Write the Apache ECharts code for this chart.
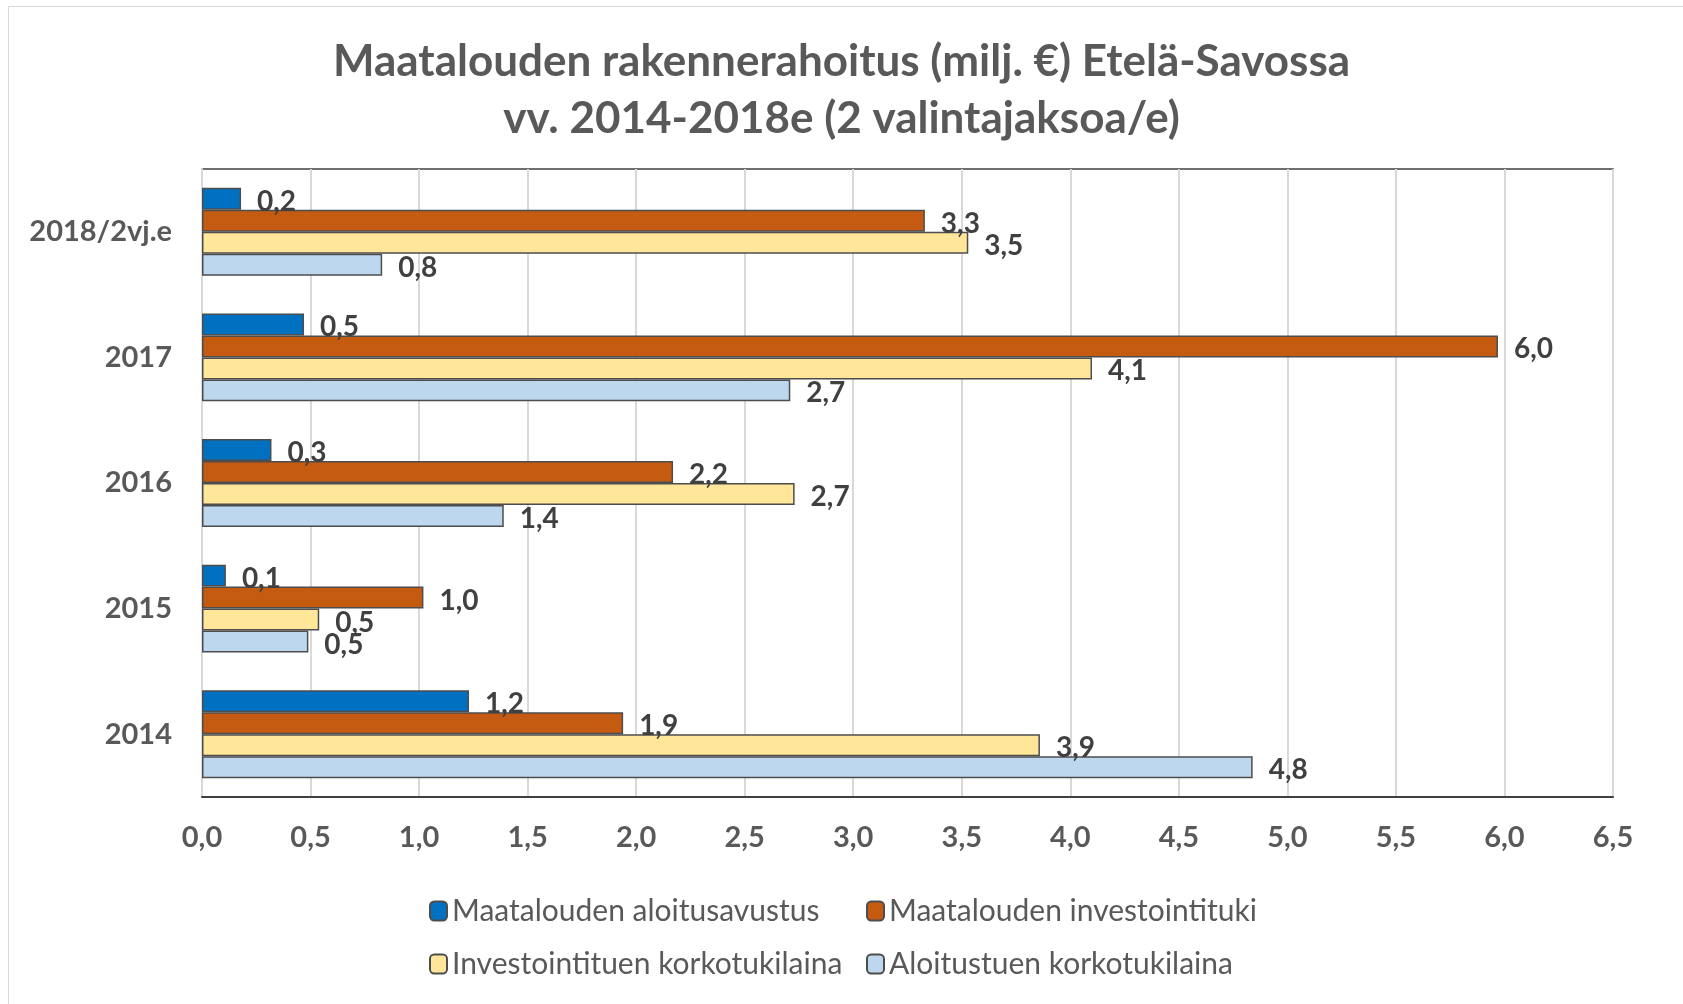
<!DOCTYPE html>
<html>
<head>
<meta charset="utf-8">
<script src="https://cdn.jsdelivr.net/npm/echarts@6/dist/echarts.min.js"></script>
<style>
  html, body { margin: 0; padding: 0; background: #fff; }
  #frame { position: absolute; left: 8px; top: 6px; width: 1690px; height: 1010px; border: 1px solid #d9d9d9; }
  #chart { position: absolute; left: 0; top: 0; width: 1683px; height: 1004px; }
</style>
</head>
<body>
<div id="frame"></div>
<div id="chart"></div>
<script>
  // vuodet ylhäältä alas
  var categories = ['2018/2vj.e', '2017', '2016', '2015', '2014']
  var seriesNames = ['Maatalouden aloitusavustus', 'Maatalouden investointituki', 'Investointituen korkotukilaina', 'Aloitustuen korkotukilaina']
  var aloitusavustus = [0.18, 0.47, 0.32, 0.11, 1.23]
  var investointituki = [3.33, 5.97, 2.17, 1.02, 1.94]
  var investKorkotuki = [3.53, 4.10, 2.73, 0.54, 3.86]
  var aloitusKorkotuki = [0.83, 2.71, 1.39, 0.49, 4.84]
  var colors = ['#0070C0', '#C55A11', '#FFE699', '#BDD7EE']

  var font = 'Lato, "Open Sans", sans-serif'
  var dark = '#404040'

  function fmt (v) {
    return v.toFixed(1).replace('.', ',')
  }

  var allData = [aloitusavustus, investointituki, investKorkotuki, aloitusKorkotuki]
  var series = allData.map(function (d, i) {
    return {
      name: seriesNames[i],
      type: 'bar',
      data: d,
      barGap: '0%',
      barCategoryGap: '30%',
      itemStyle: { color: colors[i], borderColor: '#4d4d4d', borderWidth: 1.5 },
      label: {
        show: true,
        position: 'right',
        distance: 16,
        offset: [0, 3],
        color: dark,
        fontFamily: font,
        fontWeight: 'bold',
        fontSize: 28,
        formatter: function (p) { return fmt(p.value) }
      }
    }
  })

  var myChart = echarts.init(document.getElementById('chart'))
  var option = {
    animation: false,
    title: {
      text: 'Maatalouden rakennerahoitus (milj. €) Etelä-Savossa\nvv. 2014-2018e (2 valintajaksoa/e)',
      left: 'center',
      top: 28,
      textStyle: { fontFamily: font, fontWeight: 'bold', fontSize: 44, color: '#595959', lineHeight: 57 }
    },
    legend: [
      {
        data: [seriesNames[0], seriesNames[2]],
        orient: 'vertical',
        left: 424,
        top: 891,
        itemGap: 23,
        itemWidth: 17,
        itemHeight: 19,
        textStyle: { fontFamily: font, fontSize: 30, color: '#595959' }
      },
      {
        data: [seriesNames[1], seriesNames[3]],
        orient: 'vertical',
        left: 861,
        top: 891,
        itemGap: 23,
        itemWidth: 17,
        itemHeight: 19,
        textStyle: { fontFamily: font, fontSize: 30, color: '#595959' }
      }
    ],
    grid: {
      left: 202,
      right: 70,
      top: 169,
      bottom: 207,
      show: true,
      borderColor: dark,
      borderWidth: 1.5
    },
    xAxis: {
      type: 'value',
      min: 0,
      max: 6.5,
      interval: 0.5,
      axisLine: { show: true, lineStyle: { color: dark, width: 2 } },
      axisTick: { show: false },
      splitLine: { lineStyle: { color: '#d9d9d9', width: 2 } },
      axisLabel: {
        margin: 26,
        color: '#595959',
        fontFamily: font,
        fontWeight: 'bold',
        fontSize: 29,
        formatter: function (v) { return fmt(v) }
      }
    },
    yAxis: {
      type: 'category',
      inverse: true,
      data: categories,
      axisLine: { show: true, lineStyle: { color: '#d9d9d9', width: 2 } },
      axisTick: { show: false },
      axisLabel: {
        margin: 30,
        color: '#595959',
        fontFamily: font,
        fontWeight: 'bold',
        fontSize: 29
      }
    },
    series: series
  }
  myChart.setOption(option)
</script>
</body>
</html>
